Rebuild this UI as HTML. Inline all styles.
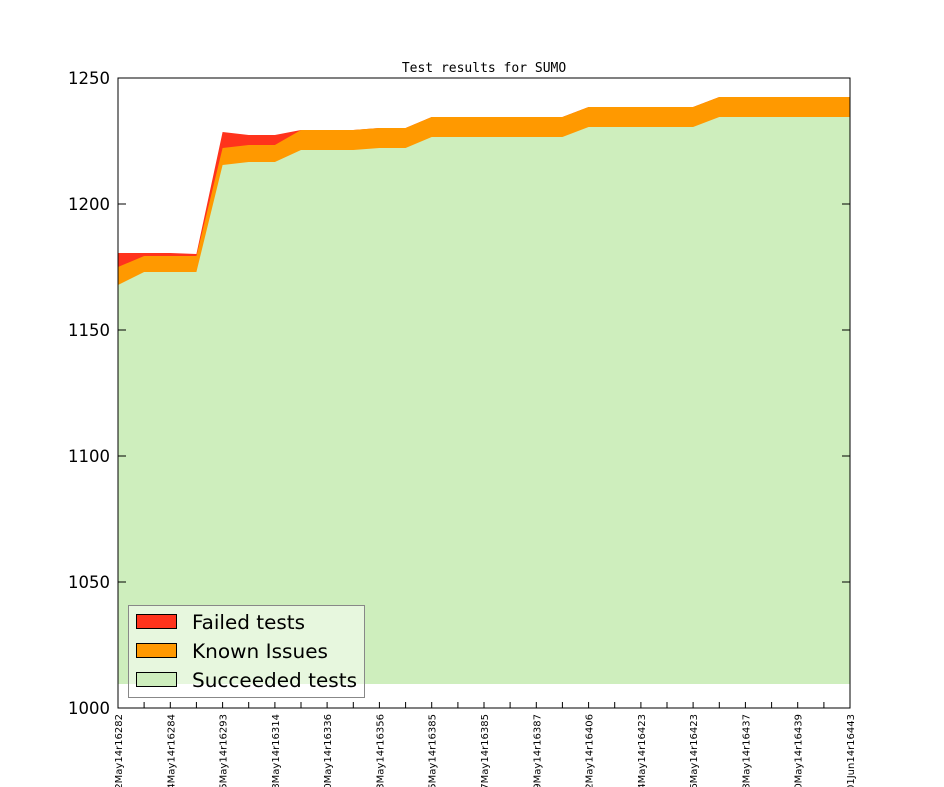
<!DOCTYPE html>
<html><head><meta charset="utf-8"><style>
html,body{margin:0;padding:0;background:#fff;}
svg{display:block;}
text{font-family:"DejaVu Sans","Liberation Sans",sans-serif;}
</style></head><body>
<svg width="944" height="787" viewBox="0 0 944 787" xmlns="http://www.w3.org/2000/svg">
<rect width="944" height="787" fill="#fff"/>
<text x="484" y="72" font-size="13" text-anchor="middle" style="font-family:'DejaVu Sans Mono','Liberation Mono',monospace">Test results for SUMO</text>
<polygon fill="#ff331c" points="118,684 118,253 144.1,253 170.3,253 196.4,254 222.6,132 248.7,135 274.9,135 301,130 327.1,130 353.3,130 379.4,128 405.6,128 431.7,117 562.4,117 588.6,107 693.1,107 719.3,97 850,97 850,684"/>
<polygon fill="#ff9900" points="118,684 118,267 144.1,256 170.3,256 196.4,256 222.6,148 248.7,145 274.9,145 301,130 327.1,130 353.3,130 379.4,128 405.6,128 431.7,117 562.4,117 588.6,107 693.1,107 719.3,97 850,97 850,684"/>
<polygon fill="#ceeebd" points="118,684 118,285 144.1,272 170.3,272 196.4,272 222.6,165 248.7,162 274.9,162 301,150 327.1,150 353.3,150 379.4,148 405.6,148 431.7,137 562.4,137 588.6,127 693.1,127 719.3,117 850,117 850,684"/>
<rect x="118" y="78" width="732" height="630" fill="none" stroke="#000" stroke-width="1"/>
<g stroke="#000" stroke-width="1">
<line x1="118" y1="78" x2="126" y2="78"/><line x1="850" y1="78" x2="842" y2="78"/>
<line x1="118" y1="204" x2="126" y2="204"/><line x1="850" y1="204" x2="842" y2="204"/>
<line x1="118" y1="330" x2="126" y2="330"/><line x1="850" y1="330" x2="842" y2="330"/>
<line x1="118" y1="456" x2="126" y2="456"/><line x1="850" y1="456" x2="842" y2="456"/>
<line x1="118" y1="582" x2="126" y2="582"/><line x1="850" y1="582" x2="842" y2="582"/>
<line x1="118" y1="708" x2="126" y2="708"/><line x1="850" y1="708" x2="842" y2="708"/>
</g>
<g font-size="16.5" text-anchor="end">
<text x="110" y="84">1250</text><text x="110" y="210">1200</text><text x="110" y="336">1150</text>
<text x="110" y="462">1100</text><text x="110" y="588">1050</text><text x="110" y="714">1000</text>
</g>
<g stroke="#000" stroke-width="1">
<line x1="144.1" y1="708" x2="144.1" y2="702"/><line x1="170.3" y1="708" x2="170.3" y2="702"/>
<line x1="196.4" y1="708" x2="196.4" y2="702"/><line x1="222.6" y1="708" x2="222.6" y2="702"/>
<line x1="248.7" y1="708" x2="248.7" y2="702"/><line x1="274.9" y1="708" x2="274.9" y2="702"/>
<line x1="301" y1="708" x2="301" y2="702"/><line x1="327.1" y1="708" x2="327.1" y2="702"/>
<line x1="353.3" y1="708" x2="353.3" y2="702"/><line x1="379.4" y1="708" x2="379.4" y2="702"/>
<line x1="405.6" y1="708" x2="405.6" y2="702"/><line x1="431.7" y1="708" x2="431.7" y2="702"/>
<line x1="457.9" y1="708" x2="457.9" y2="702"/><line x1="484" y1="708" x2="484" y2="702"/>
<line x1="510.1" y1="708" x2="510.1" y2="702"/><line x1="536.3" y1="708" x2="536.3" y2="702"/>
<line x1="562.4" y1="708" x2="562.4" y2="702"/><line x1="588.6" y1="708" x2="588.6" y2="702"/>
<line x1="614.7" y1="708" x2="614.7" y2="702"/><line x1="640.9" y1="708" x2="640.9" y2="702"/>
<line x1="667" y1="708" x2="667" y2="702"/><line x1="693.1" y1="708" x2="693.1" y2="702"/>
<line x1="719.3" y1="708" x2="719.3" y2="702"/><line x1="745.4" y1="708" x2="745.4" y2="702"/>
<line x1="771.6" y1="708" x2="771.6" y2="702"/><line x1="797.7" y1="708" x2="797.7" y2="702"/>
<line x1="823.9" y1="708" x2="823.9" y2="702"/>
</g>
<g font-size="10" text-anchor="end">
<text transform="translate(122,714) rotate(-90)">22May14r16282</text>
<text transform="translate(174.3,714) rotate(-90)">24May14r16284</text>
<text transform="translate(226.6,714) rotate(-90)">25May14r16293</text>
<text transform="translate(278.9,714) rotate(-90)">28May14r16314</text>
<text transform="translate(331.1,714) rotate(-90)">30May14r16336</text>
<text transform="translate(383.4,714) rotate(-90)">23May14r16356</text>
<text transform="translate(435.7,714) rotate(-90)">25May14r16385</text>
<text transform="translate(488,714) rotate(-90)">27May14r16385</text>
<text transform="translate(540.3,714) rotate(-90)">29May14r16387</text>
<text transform="translate(592.6,714) rotate(-90)">22May14r16406</text>
<text transform="translate(644.9,714) rotate(-90)">24May14r16423</text>
<text transform="translate(697.1,714) rotate(-90)">26May14r16423</text>
<text transform="translate(749.4,714) rotate(-90)">28May14r16437</text>
<text transform="translate(801.7,714) rotate(-90)">30May14r16439</text>
<text transform="translate(854,714) rotate(-90)">01Jun14r16443</text>
</g>
<rect x="128.5" y="605.5" width="236" height="92" fill="#fff" fill-opacity="0.5" stroke="#888" stroke-width="1"/>
<rect x="136.5" y="614.5" width="40" height="14" fill="#ff331c" stroke="#000"/>
<rect x="136.5" y="643.5" width="40" height="14" fill="#ff9900" stroke="#000"/>
<rect x="136.5" y="672.5" width="40" height="14" fill="#ceeebd" stroke="#000"/>
<g font-size="19.5">
<text x="192" y="629" textLength="113" lengthAdjust="spacingAndGlyphs">Failed tests</text>
<text x="192" y="658" textLength="136" lengthAdjust="spacingAndGlyphs">Known Issues</text>
<text x="192" y="687" textLength="165" lengthAdjust="spacingAndGlyphs">Succeeded tests</text>
</g>
</svg>
</body></html>
